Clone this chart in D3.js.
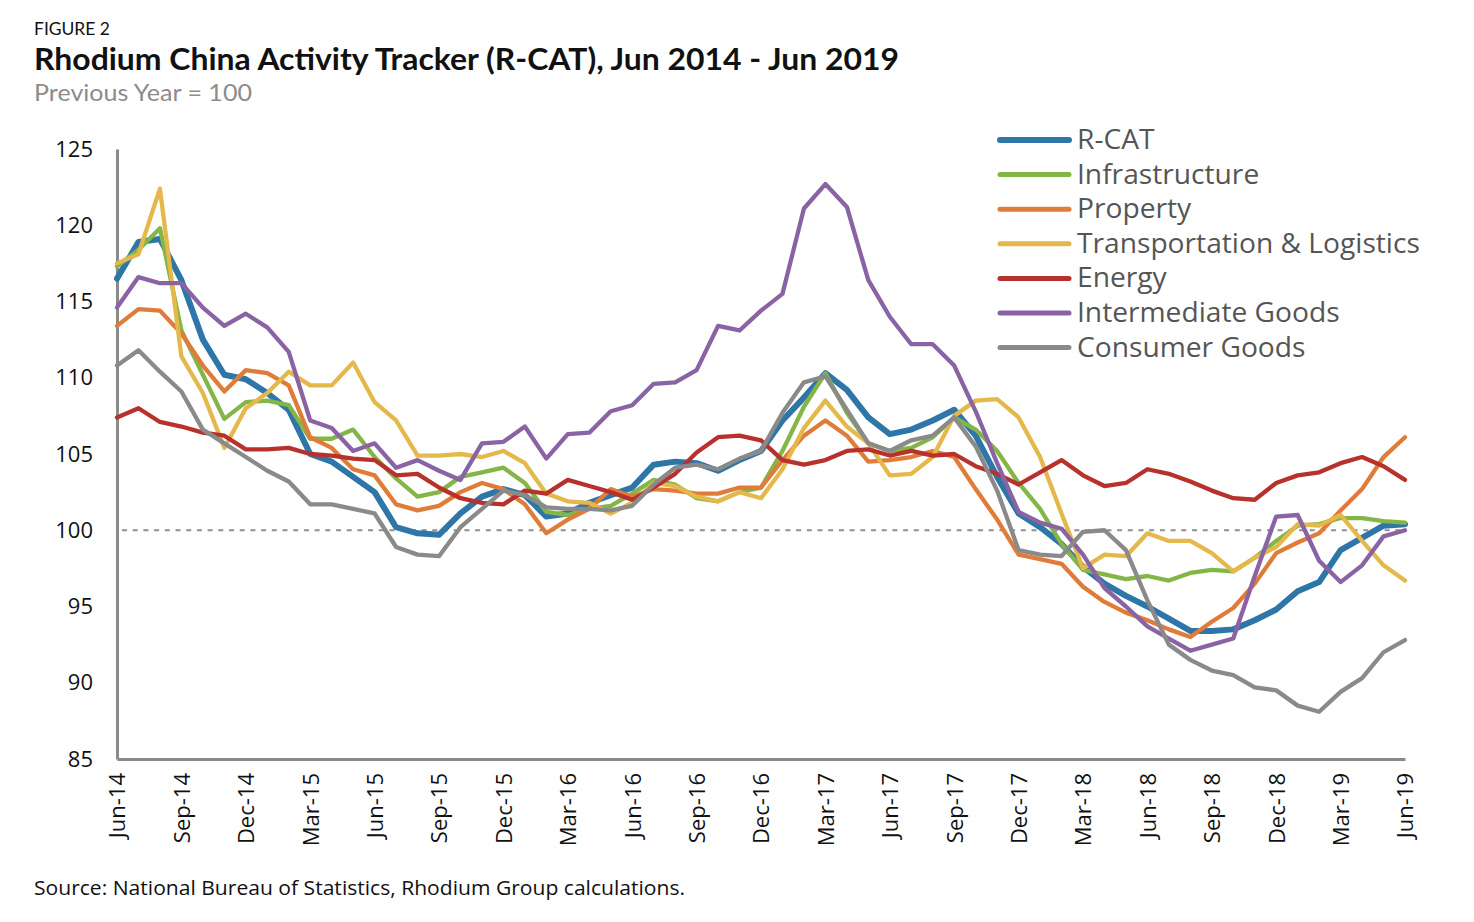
<!DOCTYPE html>
<html><head><meta charset="utf-8">
<script src="https://cdn.jsdelivr.net/npm/d3@7"></script>
<style>body{margin:0;background:#fff}</style>
</head><body>
<svg id="c" width="1474" height="922"></svg>
<script>
// ---- DATA ----
const months = ["2014-06","2014-07","2014-08","2014-09","2014-10","2014-11","2014-12","2015-01","2015-02","2015-03","2015-04","2015-05",
"2015-06","2015-07","2015-08","2015-09","2015-10","2015-11","2015-12","2016-01","2016-02","2016-03","2016-04","2016-05",
"2016-06","2016-07","2016-08","2016-09","2016-10","2016-11","2016-12","2017-01","2017-02","2017-03","2017-04","2017-05",
"2017-06","2017-07","2017-08","2017-09","2017-10","2017-11","2017-12","2018-01","2018-02","2018-03","2018-04","2018-05",
"2018-06","2018-07","2018-08","2018-09","2018-10","2018-11","2018-12","2019-01","2019-02","2019-03","2019-04","2019-05","2019-06"];
const tickLabels = ["Jun-14","Sep-14","Dec-14","Mar-15","Jun-15","Sep-15","Dec-15","Mar-16","Jun-16","Sep-16","Dec-16",
"Mar-17","Jun-17","Sep-17","Dec-17","Mar-18","Jun-18","Sep-18","Dec-18","Mar-19","Jun-19"];
const yTicks = [85,90,95,100,105,110,115,120,125];
const seriesNames = ["R-CAT","Infrastructure","Property","Transportation & Logistics","Energy","Intermediate Goods","Consumer Goods"];
const seriesColors = ["#2E75A8","#84B547","#E07C3A","#E5B84C","#B8322D","#8A63A5","#8A8A8A"];

const rcat = [116.5,118.9,119.1,116.4,112.5,110.2,109.9,109.0,107.9,105.0,104.5,103.5,102.5,100.2,99.8,99.7,101.1,102.2,102.7,102.3,100.9,101.1,101.8,102.3,102.8,104.3,104.5,104.4,103.9,104.6,105.2,107.2,108.7,110.3,109.2,107.4,106.3,106.6,107.2,107.9,106.2,103.5,101.1,100.2,99.1,97.6,96.5,95.7,95.0,94.2,93.4,93.4,93.5,94.1,94.8,96.0,96.6,98.7,99.5,100.3,100.4];
const infrastructure = [117.3,118.4,119.8,113.1,110.2,107.3,108.4,108.5,108.2,106.0,106.0,106.6,104.8,103.4,102.2,102.5,103.5,103.8,104.1,103.1,101.2,101.0,101.4,101.6,102.4,103.3,103.0,102.1,101.9,102.5,102.8,105.2,108.1,110.3,107.7,105.7,105.2,105.4,106.1,107.4,106.6,105.2,103.1,101.4,99.1,97.4,97.1,96.8,97.0,96.7,97.2,97.4,97.3,98.2,99.3,100.3,100.4,100.8,100.8,100.6,100.5];
const property = [113.4,114.5,114.4,112.9,110.8,109.1,110.5,110.3,109.5,106.1,105.4,104.0,103.6,101.7,101.3,101.6,102.5,103.1,102.7,101.7,99.8,100.7,101.4,102.7,102.2,102.7,102.6,102.4,102.4,102.8,102.8,104.6,106.2,107.2,106.2,104.5,104.6,104.8,105.2,104.8,102.7,100.7,98.4,98.1,97.8,96.3,95.3,94.6,94.1,93.5,93.0,94.0,94.9,96.5,98.5,99.2,99.8,101.3,102.7,104.8,106.1];
const transport = [117.5,118.1,122.4,111.4,109.0,105.4,108.0,109.0,110.4,109.5,109.5,111.0,108.4,107.2,104.9,104.9,105.0,104.8,105.2,104.4,102.4,101.9,101.8,101.1,101.8,103.1,102.9,102.2,101.9,102.5,102.1,104.0,106.7,108.5,106.8,105.7,103.6,103.7,104.8,107.5,108.5,108.6,107.4,104.8,101.1,97.5,98.4,98.3,99.8,99.3,99.3,98.5,97.3,98.2,98.9,100.4,100.3,101.0,99.3,97.7,96.7];
const energy = [107.4,108.0,107.1,106.8,106.4,106.2,105.3,105.3,105.4,105.0,104.9,104.7,104.6,103.6,103.7,102.8,102.1,101.8,101.7,102.6,102.4,103.3,102.9,102.5,102.0,102.8,103.7,105.1,106.1,106.2,105.9,104.6,104.3,104.6,105.2,105.3,104.9,105.2,104.9,105.0,104.2,103.7,103.0,103.8,104.6,103.6,102.9,103.1,104.0,103.7,103.2,102.6,102.1,102.0,103.1,103.6,103.8,104.4,104.8,104.2,103.3];
const intermediate = [114.6,116.6,116.2,116.2,114.6,113.4,114.2,113.3,111.7,107.2,106.7,105.2,105.7,104.1,104.6,103.9,103.3,105.7,105.8,106.8,104.7,106.3,106.4,107.8,108.2,109.6,109.7,110.5,113.4,113.1,114.4,115.5,121.1,122.7,121.2,116.4,114.0,112.2,112.2,110.8,107.8,104.4,101.2,100.5,100.1,98.4,96.2,95.0,93.7,92.9,92.1,92.5,92.9,97.0,100.9,101.0,98.0,96.6,97.7,99.6,100.0];
const consumer = [110.8,111.8,110.4,109.1,106.6,105.7,104.8,103.9,103.2,101.7,101.7,101.4,101.1,98.9,98.4,98.3,100.2,101.4,102.6,102.3,101.5,101.4,101.4,101.3,101.6,103.0,104.1,104.3,104.0,104.7,105.2,107.7,109.7,110.1,107.9,105.7,105.2,105.9,106.2,107.4,105.5,102.6,98.7,98.4,98.3,99.9,100.0,98.7,95.4,92.5,91.5,90.8,90.5,89.7,89.5,88.5,88.1,89.4,90.3,92.0,92.8];
const seriesValues = [rcat, infrastructure, property, transport, energy, intermediate, consumer];

// ---- CHART ----
const svg = d3.select("#c");
const FONT = "'Open Sans', 'Noto Sans', sans-serif";
const TFONT = "Lato, 'Open Sans', sans-serif";
const x = d3.scaleLinear().domain([0, months.length - 1]).range([117, 1405]);
const y = d3.scaleLinear().domain([85, 125]).range([759, 149]);

// titles
svg.append("text").attr("x",34).attr("y",35).text("FIGURE 2")
  .attr("font-family",TFONT).attr("font-size",18).attr("fill","#111")
  .attr("textLength",76).attr("lengthAdjust","spacingAndGlyphs");
svg.append("text").attr("x",34).attr("y",70).text("Rhodium China Activity Tracker (R-CAT), Jun 2014 - Jun 2019")
  .attr("font-family",TFONT).attr("font-weight",700).attr("font-size",31).attr("fill","#111")
  .attr("textLength",865).attr("lengthAdjust","spacingAndGlyphs");
svg.append("text").attr("x",34).attr("y",101).text("Previous Year = 100")
  .attr("font-family",TFONT).attr("font-size",23).attr("fill","#8c8c8c")
  .attr("textLength",218).attr("lengthAdjust","spacingAndGlyphs");
svg.append("text").attr("x",34).attr("y",895).text("Source: National Bureau of Statistics, Rhodium Group calculations.")
  .attr("font-family",FONT).attr("font-size",20).attr("fill","#111")
  .attr("textLength",651).attr("lengthAdjust","spacingAndGlyphs");

// reference line at 100
svg.append("line").attr("x1",122).attr("x2",x(months.length-1))
  .attr("y1",y(100)).attr("y2",y(100))
  .attr("stroke","#8f8f8f").attr("stroke-width",2).attr("stroke-dasharray","5,5.7");

// axes
const yAxis = svg.append("g").attr("transform",`translate(${x(0)},0)`)
  .call(d3.axisLeft(y).tickValues(yTicks).tickSize(0).tickSizeOuter(0).tickPadding(24));
const xTickIdx = tickLabels.map((d,i)=>i*3);
const xAxis = svg.append("g").attr("transform",`translate(0,${y(85)})`)
  .call(d3.axisBottom(x).tickValues(xTickIdx).tickFormat((d,i)=>tickLabels[i]).tickSize(0).tickSizeOuter(0));
[yAxis,xAxis].forEach(g=>{
  g.select(".domain").attr("stroke","#8a8a8a").attr("stroke-width",3);
  g.selectAll("text").attr("font-family",FONT).attr("font-size",22).attr("fill","#111");
});
xAxis.selectAll("text").attr("transform","rotate(-90)").attr("x",-14).attr("y",0)
  .attr("dy","0.36em").style("text-anchor","end");

// lines
const line = d3.line().x((d,i)=>x(i)).y(d=>y(d));
seriesValues.forEach((vals,k)=>{
  svg.append("path").datum(vals).attr("d",line)
    .attr("fill","none").attr("stroke",seriesColors[k])
    .attr("stroke-width",k===0?6:4.3).attr("stroke-linejoin","round").attr("stroke-linecap","round");
});

// legend
const lg = svg.append("g");
seriesNames.forEach((n,k)=>{
  const ly = 140 + k*34.6;
  lg.append("line").attr("x1",1000).attr("x2",1069).attr("y1",ly).attr("y2",ly)
    .attr("stroke",seriesColors[k]).attr("stroke-width",k===0?6:5).attr("stroke-linecap","round");
  lg.append("text").attr("x",1077).attr("y",ly+9).text(n)
    .attr("font-family",FONT).attr("font-size",27).attr("fill","#555");
});
// fit legend font to the reference width of the longest label
const longest = lg.selectAll("text").filter(function(){return this.textContent===seriesNames[3];}).node();
const w = longest.getComputedTextLength();
const fs = 27*343/w;
lg.selectAll("text").attr("font-size",fs);
</script>
</body></html>
